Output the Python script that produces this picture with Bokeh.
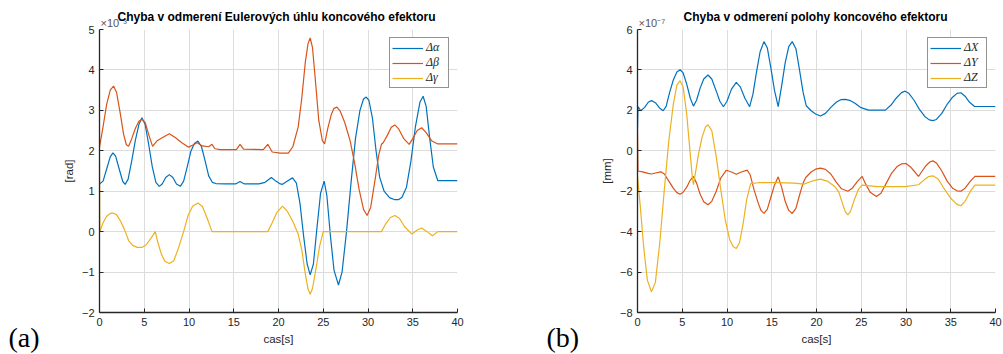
from bokeh.plotting import figure
from bokeh.layouts import row
from bokeh.models import Range1d, FixedTicker, Title
from bokeh.embed import file_html
from bokeh.resources import INLINE

BLUE, RED, YEL = "#0072BD", "#D95319", "#EDB120"
INK = "#262626"

# ---- (a) Euler-angle error, in units of 1e-3 rad ----
t_alpha = [0, 0.4, 0.8, 1.2, 1.5, 1.8, 2.2, 2.6, 2.87, 3.2, 3.6, 4.0, 4.4, 4.74, 5.1, 5.5,
           5.9, 6.3, 6.68, 7.0, 7.4, 7.8, 8.2, 8.6, 9.03, 9.4, 9.8, 10.2, 10.6, 11.0, 11.4,
           11.8, 12.2, 12.6, 13.0, 14.0, 15.2, 15.7, 16.2, 17.8, 18.5, 19.2, 19.7, 20.2,
           20.45, 21.0, 21.57, 22.0, 22.4, 22.8, 23.2, 23.54, 23.9, 24.3, 24.7, 25.1, 25.4,
           25.8, 26.2, 26.7, 27.1, 27.6, 28.1, 28.6, 29.1, 29.5, 29.8, 30.1, 30.5, 30.9,
           31.3, 31.8, 32.4, 33.0, 33.4, 33.8, 34.3, 34.8, 35.3, 35.8, 36.16, 36.5, 36.9,
           37.3, 37.8, 40]
alpha = [1.18, 1.25, 1.55, 1.85, 1.95, 1.87, 1.55, 1.24, 1.17, 1.3, 1.75, 2.25, 2.65, 2.82,
         2.65, 2.15, 1.6, 1.22, 1.12, 1.18, 1.34, 1.41, 1.34, 1.18, 1.12, 1.25, 1.6, 1.98,
         2.18, 2.24, 2.1, 1.75, 1.38, 1.22, 1.19, 1.18, 1.18, 1.24, 1.18, 1.18, 1.22, 1.34,
         1.25, 1.18, 1.17, 1.25, 1.33, 1.2, 0.7, -0.1, -0.8, -1.07, -0.8, 0.1, 0.95, 1.25,
         0.9, -0.1, -0.95, -1.32, -1.0, 0.0, 1.2, 2.3, 3.0, 3.28, 3.33, 3.25, 2.8, 2.0, 1.35,
         1.0, 0.84, 0.79, 0.79, 0.85, 1.1, 1.75, 2.6, 3.2, 3.35, 3.1, 2.3, 1.6, 1.26, 1.26]

t_beta = [0, 0.4, 0.8, 1.2, 1.57, 1.9, 2.3, 2.7, 3.0, 3.25, 3.6, 4.0, 4.4, 4.74, 5.1, 5.5,
          5.93, 6.4, 7.0, 7.8, 8.5, 9.2, 9.96, 10.5, 10.9, 11.5, 12.2, 12.57, 12.9, 13.5,
          15.3, 15.7, 16.1, 18.3, 18.8, 19.3, 20.2, 21.1, 21.6, 22.2, 22.6, 23.0, 23.3,
          23.54, 23.8, 24.1, 24.5, 24.9, 25.15, 25.5, 25.9, 26.2, 26.53, 26.9, 27.4, 28.0,
          28.5, 29.0, 29.5, 29.9, 30.3, 30.8, 31.2, 31.5, 31.7, 32.2, 32.6, 33.0, 33.4,
          34.0, 34.6, 35.0, 35.5, 36.0, 36.5, 37.1, 37.8, 40]
beta = [2.09, 2.6, 3.15, 3.5, 3.60, 3.45, 2.95, 2.4, 2.15, 2.11, 2.3, 2.55, 2.73, 2.78, 2.7,
        2.4, 2.11, 2.24, 2.32, 2.42, 2.32, 2.2, 2.09, 2.15, 2.2, 2.12, 2.1, 2.16, 2.05, 2.03,
        2.03, 2.16, 2.04, 2.03, 2.16, 1.97, 1.94, 1.94, 2.1, 2.59, 3.3, 4.2, 4.65, 4.79,
        4.55, 3.8, 2.75, 2.25, 2.17, 2.55, 2.9, 3.05, 3.08, 2.98, 2.7, 2.25, 1.7, 1.05, 0.55,
        0.40, 0.6, 1.3, 1.9, 2.16, 2.2, 2.4, 2.58, 2.64, 2.55, 2.3, 2.16, 2.3, 2.5, 2.57,
        2.45, 2.25, 2.17, 2.17]

t_gamma = [0, 0.03, 0.4, 0.8, 1.2, 1.49, 1.9, 2.3, 2.8, 3.25, 3.7, 4.2, 4.74, 5.2, 5.7, 6.0,
           6.23, 6.5, 6.9, 7.3, 7.8, 8.3, 8.8, 9.4, 9.9, 10.4, 11.0, 11.5, 12.0, 12.57, 18.8,
           19.3, 19.8, 20.45, 21.0, 21.6, 22.2, 22.6, 23.0, 23.3, 23.54, 23.8, 24.2, 24.6,
           25.0, 31.5, 32.0, 32.5, 33.0, 33.5, 34.1, 34.9, 35.5, 36.0, 36.6, 37.2, 37.8, 40]
gamma = [1.72, 0.0, 0.22, 0.38, 0.45, 0.46, 0.42, 0.28, 0.05, -0.22, -0.34, -0.39, -0.39,
         -0.33, -0.18, -0.08, 0.0, -0.25, -0.55, -0.73, -0.79, -0.72, -0.42, 0.0, 0.4, 0.63,
         0.71, 0.62, 0.35, 0.0, 0.0, 0.22, 0.47, 0.63, 0.5, 0.25, -0.06, -0.45, -1.05, -1.42,
         -1.55, -1.4, -0.9, -0.35, 0.0, 0.0, 0.2, 0.35, 0.40, 0.33, 0.12, -0.06, 0.04, 0.09,
         0.0, -0.10, 0.0, 0.0]

# ---- (b) position error, in units of 1e-7 mm ----
t_dx = [0, 0.05, 0.37, 0.8, 1.2, 1.56, 2.0, 2.5, 2.86, 3.2, 3.6, 4.0, 4.4, 4.76, 5.1, 5.5,
        5.9, 6.25, 6.6, 7.0, 7.4, 7.88, 8.3, 8.8, 9.2, 9.6, 10.0, 10.5, 11.04, 11.5, 12.0,
        12.53, 12.9, 13.3, 13.7, 14.13, 14.5, 14.9, 15.3, 15.72, 16.1, 16.5, 16.9, 17.29,
        17.7, 18.1, 18.5, 18.85, 19.4, 19.9, 20.45, 21.0, 21.6, 22.2, 22.7, 23.23, 23.8,
        24.3, 24.9, 25.8, 27.7, 28.3, 28.9, 29.5, 29.9, 30.3, 30.9, 31.5, 32.1, 32.6, 33.0,
        33.4, 34.0, 34.6, 35.2, 35.7, 36.13, 36.6, 37.1, 37.66, 40]
dx = [1.05, 2.18, 1.98, 2.15, 2.4, 2.48, 2.38, 2.1, 1.98, 2.2, 2.9, 3.5, 3.9, 4.01, 3.85,
      3.3, 2.6, 2.21, 2.5, 3.1, 3.55, 3.75, 3.55, 2.95, 2.45, 2.18, 2.45, 3.05, 3.38, 3.15,
      2.6, 2.18, 2.8, 3.9, 4.9, 5.40, 5.1, 4.1, 3.0, 2.18, 3.2, 4.35, 5.15, 5.40, 5.05, 4.0,
      2.9, 2.23, 1.98, 1.82, 1.72, 1.85, 2.15, 2.4, 2.53, 2.54, 2.48, 2.35, 2.15, 2.01, 2.01,
      2.25, 2.6, 2.88, 2.95, 2.85, 2.5, 2.05, 1.7, 1.53, 1.49, 1.55, 1.85, 2.3, 2.65, 2.84,
      2.87, 2.7, 2.4, 2.19, 2.19]

t_dy = [0, 0.05, 0.56, 1.2, 1.56, 2.0, 2.6, 3.0, 3.5, 4.0, 4.4, 4.76, 5.1, 5.5, 5.9, 6.25,
        6.6, 7.0, 7.4, 7.88, 8.3, 8.8, 9.3, 9.93, 10.5, 11.04, 11.6, 12.27, 12.6, 13.0, 13.5,
        13.8, 14.13, 14.5, 14.9, 15.3, 15.72, 16.1, 16.5, 16.9, 17.29, 17.7, 18.1, 18.5,
        18.8, 19.4, 19.9, 20.45, 21.0, 21.6, 22.2, 22.8, 23.5, 24.0, 24.6, 25.1, 25.5, 26.0,
        26.7, 27.2, 27.8, 28.4, 29.0, 29.5, 30.0, 30.5, 31.0, 31.4, 31.8, 32.3, 32.7, 33.0,
        33.4, 34.0, 34.6, 35.2, 35.7, 36.13, 36.6, 37.2, 37.7, 40]
dy = [1.0, -1.0, -1.04, -1.12, -1.15, -1.1, -1.04, -1.15, -1.5, -1.85, -2.07, -2.15, -2.05,
      -1.8, -1.45, -1.27, -1.6, -2.15, -2.52, -2.67, -2.5, -2.0, -1.35, -0.96, -1.05, -1.16,
      -1.05, -0.96, -1.2, -1.9, -2.6, -2.95, -3.10, -2.9, -2.3, -1.7, -1.29, -1.8, -2.5,
      -2.95, -3.10, -2.85, -2.2, -1.6, -1.32, -1.05, -0.91, -0.86, -0.92, -1.15, -1.55,
      -1.88, -2.0, -1.85, -1.5, -1.27, -1.65, -2.05, -2.26, -2.1, -1.6, -1.1, -0.78, -0.65,
      -0.63, -0.8, -1.05, -1.27, -1.0, -0.7, -0.54, -0.50, -0.6, -1.0, -1.5, -1.85, -1.98,
      -2.0, -1.85, -1.5, -1.27, -1.27]

t_dz = [0, 0.3, 0.7, 1.1, 1.56, 2.0, 2.5, 3.0, 3.5, 4.0, 4.4, 4.76, 5.1, 5.5, 5.9, 6.13, 6.25,
        6.4, 6.8, 7.2, 7.6, 7.88, 8.3, 8.8, 9.3, 9.8, 10.3, 10.7, 11.04, 11.4, 11.8, 12.2,
        12.64, 13.5, 15.6, 17.5, 18.6, 19.3, 19.9, 20.45, 21.2, 22.0, 22.5, 22.9, 23.2, 23.5,
        23.8, 24.2, 24.7, 25.1, 26.8, 29.9, 31.4, 32.0, 32.5, 33.0, 33.6, 34.3, 35.0, 35.7,
        36.13, 36.6, 37.2, 37.7, 40]
dz = [-1.24, -2.7, -4.8, -6.4, -6.98, -6.5, -4.5, -1.9, 0.5, 2.3, 3.25, 3.47, 3.15, 1.8, -0.2,
      -1.32, -1.68, -1.3, -0.2, 0.65, 1.18, 1.29, 1.0, -0.3, -1.9, -3.4, -4.4, -4.75, -4.83,
      -4.55, -3.6, -2.4, -1.62, -1.58, -1.58, -1.6, -1.65, -1.53, -1.45, -1.40, -1.5, -1.75,
      -2.05, -2.6, -3.0, -3.17, -3.0, -2.45, -1.9, -1.70, -1.77, -1.77, -1.68, -1.45, -1.28,
      -1.24, -1.4, -1.9, -2.35, -2.65, -2.72, -2.5, -2.0, -1.70, -1.70]

x_ticks = [0, 5, 10, 15, 20, 25, 30, 35, 40]
y_ticks_a = [-2, -1, 0, 1, 2, 3, 4, 5]
y_ticks_b = [-8, -6, -4, -2, 0, 2, 4, 6]


def panel(title, ylabel, yticks, exp_text, tag, border_left, border_right, title_offset):
    p = figure(frame_width=358, frame_height=283,
               x_range=Range1d(0, 40), y_range=Range1d(yticks[0], yticks[-1]),
               output_backend="svg", toolbar_location=None,
               min_border_left=border_left, min_border_right=border_right,
               min_border_top=29, min_border_bottom=42)
    p.outline_line_color = None
    p.background_fill_color = "white"
    p.border_fill_color = "white"
    p.title.visible = False

    # axis multiplier, sitting just above the top-left corner of the frame
    p.add_layout(Title(text=exp_text, align="left", offset=1, standoff=2,
                       text_font="Liberation Sans", text_font_size="11px",
                       text_font_style="normal", text_color="#555555"), "above")
    # bold heading on the same line as the multiplier
    p.add_layout(Title(text=title, align="left", offset=title_offset, standoff=-21,
                       text_font="Liberation Sans", text_font_size="12px",
                       text_font_style="bold", text_color="black"), "above")

    p.xaxis.ticker = FixedTicker(ticks=x_ticks)
    p.yaxis.ticker = FixedTicker(ticks=yticks)
    p.xaxis.axis_label = "cas[s]"
    p.yaxis.axis_label = ylabel
    for ax in (p.xaxis[0], p.yaxis[0]):
        ax.axis_line_color = INK
        ax.axis_line_width = 1.3
        ax.major_tick_line_color = INK
        ax.major_tick_in = 4
        ax.major_tick_out = 0
        ax.minor_tick_line_color = None
        ax.major_label_text_font = "Liberation Sans"
        ax.major_label_text_font_size = "11px"
        ax.major_label_text_color = INK
        ax.major_label_standoff = 5
        ax.axis_label_text_font = "Liberation Sans"
        ax.axis_label_text_font_size = "11.5px"
        ax.axis_label_text_font_style = "normal"
        ax.axis_label_text_color = INK
        ax.axis_label_standoff = 4
    p.grid.grid_line_color = "#dcdcdc"
    p.grid.grid_line_width = 1

    # sub-figure tag in the lower-left corner
    p.add_layout(Title(text=tag, align="left", offset=-91, standoff=-51,
                       vertical_align="top",
                       text_font="Liberation Serif", text_font_size="28px",
                       text_font_style="normal", text_color="black"), "below")
    return p


pa = panel("Chyba v odmerení Eulerových úhlu koncového efektoru", "[rad]",
           y_ticks_a, "×10⁻³", "(a)", 99, 43, 18)
pa.line(t_alpha, alpha, color=BLUE, line_width=1.2, legend_label="Δα")
pa.line(t_beta, beta, color=RED, line_width=1.2, legend_label="Δβ")
pa.line(t_gamma, gamma, color=YEL, line_width=1.2, legend_label="Δγ")

pb = panel("Chyba v odmerení polohy koncového efektoru", "[mm]",
           y_ticks_b, "×10⁻⁷", "(b)", 137, 8, 46)
pb.line(t_dx, dx, color=BLUE, line_width=1.2, legend_label="ΔX")
pb.line(t_dy, dy, color=RED, line_width=1.2, legend_label="ΔY")
pb.line(t_dz, dz, color=YEL, line_width=1.2, legend_label="ΔZ")

for p in (pa, pb):
    leg = p.legend[0]
    leg.location = "top_right"
    leg.margin = 8
    leg.padding = 2
    leg.spacing = 0
    leg.glyph_width = 31
    leg.glyph_height = 12
    leg.label_height = 12
    leg.label_standoff = 3
    leg.label_text_font = "Liberation Serif"
    leg.label_text_font_style = "italic"
    leg.label_text_font_size = "12px"
    leg.label_text_color = INK
    leg.border_line_color = INK
    leg.border_line_width = 1
    leg.background_fill_alpha = 1

layout = row(pa, pb)
open("out.html", "w").write(file_html(layout, INLINE))
